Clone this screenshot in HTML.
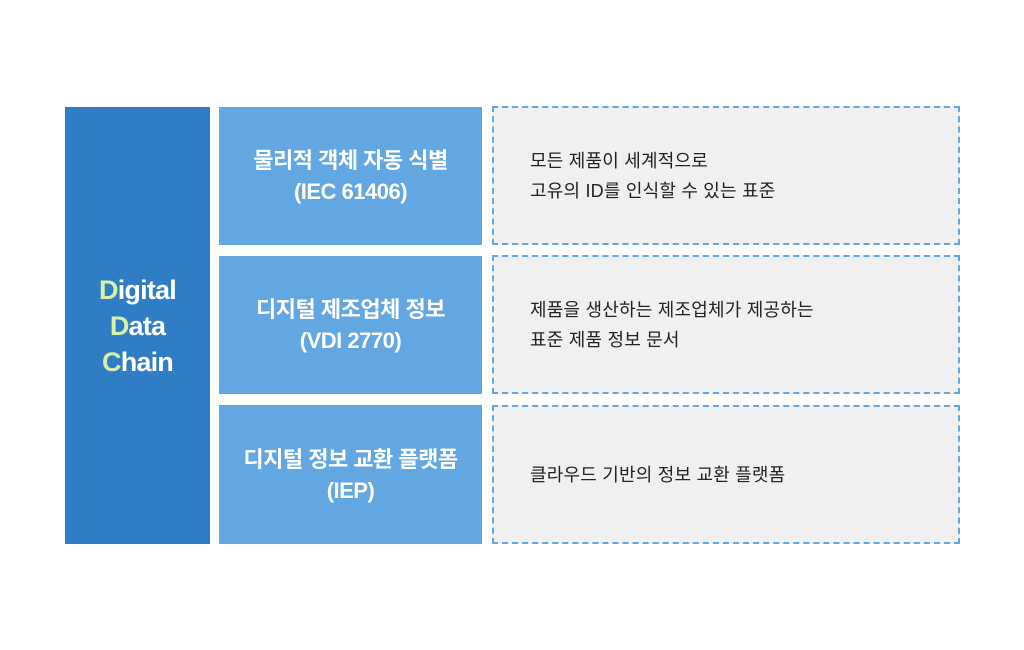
<!DOCTYPE html>
<html><head><meta charset="utf-8"><style>
body{margin:0;width:1024px;height:650px;background:#fff;position:relative;font-family:"Liberation Sans","Noto Sans CJK KR",sans-serif;overflow:hidden}
.l{position:absolute;left:65px;top:107px;width:145px;height:437px;background:#2e7dc5;color:#fff;font-weight:bold;font-size:27px;line-height:36px;display:flex;align-items:center;justify-content:center;text-align:center;letter-spacing:-0.8px}
.l b{color:#d8f0a8}
.m{position:absolute;left:219px;width:263px;height:138px;background:#62a6e2;color:#fff;font-weight:bold;font-size:22px;line-height:31px;display:flex;align-items:center;justify-content:center;text-align:center;letter-spacing:-0.5px}
.r{position:absolute;left:492px;background:#f0f0f0;border:2px dashed #62a6e2;color:#222;font-size:18px;line-height:30px;display:flex;align-items:center;padding-left:36px;box-sizing:border-box;width:468px;height:139px;letter-spacing:0.2px}
</style></head><body>
<div class="l"><div><b>D</b>igital<br><b>D</b>ata<br><b>C</b>hain</div></div>
<div class="m" style="top:107px">물리적 객체 자동 식별<br>(IEC 61406)</div>
<div class="m" style="top:256px">디지털 제조업체 정보<br>(VDI 2770)</div>
<div class="m" style="top:405px;height:139px">디지털 정보 교환 플랫폼<br>(IEP)</div>
<div class="r" style="top:106px"><div>모든 제품이 세계적으로<br>고유의 ID를 인식할 수 있는 표준</div></div>
<div class="r" style="top:255px"><div>제품을 생산하는 제조업체가 제공하는<br>표준 제품 정보 문서</div></div>
<div class="r" style="top:405px"><div>클라우드 기반의 정보 교환 플랫폼</div></div>
</body></html>
